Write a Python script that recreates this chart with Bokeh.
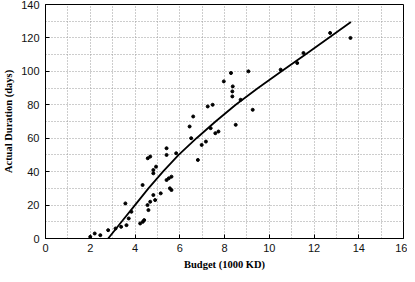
from bokeh.plotting import figure
from bokeh.models import SingleIntervalTicker, Range1d, FixedTicker
from bokeh.embed import file_html
from bokeh.resources import INLINE

budget = [2.0, 2.2, 2.45, 2.8, 3.13, 3.38, 3.62, 3.57, 3.72, 3.84, 4.23, 4.35, 4.41,
          4.34, 4.56, 4.6, 4.68, 4.57, 4.68, 4.82, 4.9, 4.82, 4.82, 4.94, 5.15, 5.41,
          5.41, 5.41, 5.51, 5.63, 5.56, 5.63, 5.84, 6.44, 6.6, 6.51, 6.81, 6.98, 7.17,
          7.25, 7.47, 7.38, 7.59, 7.73, 7.97, 8.29, 8.37, 8.35, 8.35, 8.72, 8.5, 9.07,
          9.26, 10.51, 11.25, 11.53, 12.72, 13.63]
duration = [1, 3, 2, 5, 6, 7, 8, 21, 12, 16, 9, 10, 11,
            32, 20, 17, 22, 48, 49, 26, 23, 41, 39, 43, 27, 54,
            50, 35, 36, 37, 30, 29, 51, 67, 73, 60, 47, 56, 58,
            79, 80, 66, 63, 64, 94, 99, 91, 88, 85, 83, 68, 100,
            77, 101, 105, 111, 123, 120]

fit_budget = [2.8, 3.4, 4.0, 4.6, 5.25, 5.95, 6.75, 7.6, 8.5, 9.5, 10.55, 11.6, 12.65, 13.65]
fit_duration = [0, 10, 20, 30, 40, 50, 60, 70, 80, 90, 100, 110, 120, 129.5]

x_ticks = [0, 2, 4, 6, 8, 10, 12, 14, 16]
y_ticks = [0, 20, 40, 60, 80, 100, 120, 140]

p = figure(width=407, height=274, output_backend="svg", toolbar_location=None,
           x_range=Range1d(0, 16), y_range=Range1d(0, 140),
           min_border_left=41, min_border_top=4, min_border_right=4, min_border_bottom=36,
           x_axis_label="Budget (1000 KD)", y_axis_label="Actual Duration (days)")
p.background_fill_color = "white"
p.border_fill_color = "white"
p.outline_line_color = "black"
p.outline_line_width = 1

for ax in (p.xaxis[0], p.yaxis[0]):
    ax.axis_label_text_font = "Liberation Serif"
    ax.axis_label_text_font_style = "bold"
    ax.axis_label_text_font_size = "10.5px"
    ax.axis_label_text_color = "black"
    ax.major_label_text_font = "Liberation Sans"
    ax.major_label_text_font_size = "11px"
    ax.major_label_text_color = "#111111"
    ax.major_tick_in = 4
    ax.major_tick_out = 0
    ax.minor_tick_in = 0
    ax.minor_tick_out = 0
    ax.axis_line_color = "black"
    ax.major_tick_line_color = "black"

p.xaxis[0].ticker = FixedTicker(ticks=x_ticks)
p.yaxis[0].ticker = FixedTicker(ticks=y_ticks)
p.xaxis[0].major_label_standoff = 5
p.xaxis[0].axis_label_standoff = 4
p.yaxis[0].major_label_standoff = 6
p.yaxis[0].axis_label_standoff = 4

p.xgrid.ticker = SingleIntervalTicker(interval=1)
p.ygrid.ticker = SingleIntervalTicker(interval=10)
for g in (p.xgrid[0], p.ygrid[0]):
    g.grid_line_color = "#9a9a9a"
    g.grid_line_dash = "1 2"
    g.grid_line_width = 1

p.line(fit_budget, fit_duration, line_color="black", line_width=1.8)
p.scatter(budget, duration, size=3, color="black")

open("out.html", "w").write(file_html(p, INLINE))
